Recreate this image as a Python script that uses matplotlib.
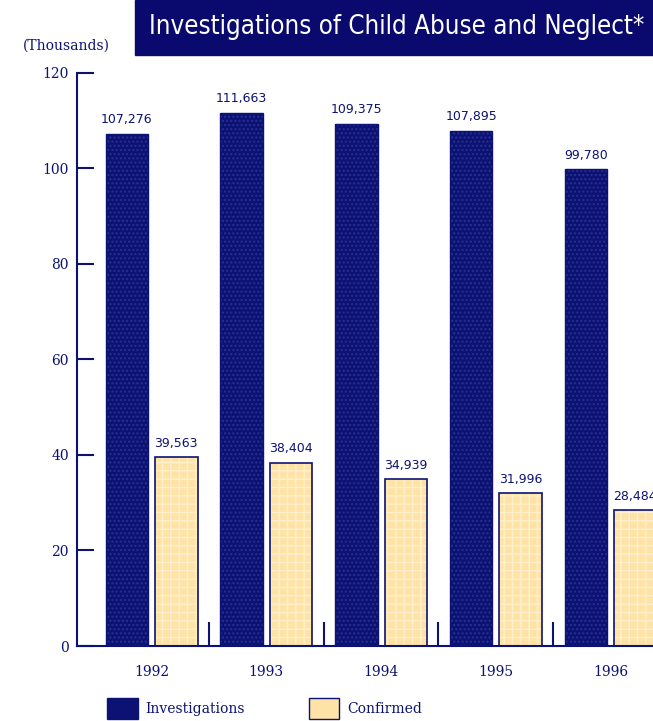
import matplotlib
matplotlib.use('Agg')
import matplotlib.pyplot as plt
from matplotlib.patches import Patch
import numpy as np

years = ['1992', '1993', '1994', '1995', '1996']
investigations = [107.276, 111.663, 109.375, 107.895, 99.780]
confirmed = [39.563, 38.404, 34.939, 31.996, 28.484]
yticks = [0, 20, 40, 60, 80, 100, 120]

navy = '#0c1273'
dot = '#27318f'
cream = '#ffe2a6'
cream_dot = '#fff0cc'

fig = plt.figure(figsize=(6.53, 7.21), dpi=100)
ax = fig.add_axes([0.118, 0.104, 0.882, 0.795])

x = np.arange(len(years))
w = 0.37
off = 0.215

# investigations: dark navy with a lighter dot texture
ax.bar(x - off, investigations, w, color=navy, edgecolor=dot, hatch='....', linewidth=0)
ax.bar(x - off, investigations, w, color='none', edgecolor=navy, linewidth=1)
# confirmed: pale yellow with a faint cross texture and navy outline
ax.bar(x + off, confirmed, w, color=cream, edgecolor=cream_dot, hatch='++', linewidth=0)
ax.bar(x + off, confirmed, w, color='none', edgecolor=navy, linewidth=1.2)

for i in range(len(years)):
    ax.text(x[i] - off, investigations[i] + 1.5, f'{investigations[i]*1000:,.0f}',
            ha='center', va='bottom', fontsize=9, color=navy)
    ax.text(x[i] + off, confirmed[i] + 1.5, f'{confirmed[i]*1000:,.0f}',
            ha='center', va='bottom', fontsize=9, color=navy, clip_on=False)

ax.set_xlim(-0.65, 4.37)
ax.set_ylim(0, 120)
ax.set_yticks(yticks)
ax.set_yticklabels([str(v) for v in yticks], fontsize=10, color=navy, family='DejaVu Serif')
ax.tick_params(axis='y', direction='in', length=12, width=1.5, color=navy, pad=6)

# short tick marks between the year groups
ax.set_xticks(x[:-1] + 0.5, minor=True)
ax.set_xticks(x)
ax.set_xticklabels(years, fontsize=10, color=navy, family='DejaVu Serif')
ax.tick_params(axis='x', which='major', length=0, pad=14)
ax.tick_params(axis='x', which='minor', direction='in', length=17, width=1.5, color=navy)

for s in ['top', 'right']:
    ax.spines[s].set_visible(False)
for s in ['left', 'bottom']:
    ax.spines[s].set_color(navy)
    ax.spines[s].set_linewidth(1.5)

# title banner
fig.patches.append(plt.Rectangle((0.207, 0.924), 0.793, 0.076, transform=fig.transFigure,
                                 color='#0a0a6e', zorder=0))
fig.text(0.607, 0.962, 'Investigations of Child Abuse and Neglect*', ha='center', va='center',
         fontsize=18.5, color='white', family='DejaVu Sans', fontstretch='condensed')
fig.text(0.035, 0.937, '(Thousands)', ha='left', va='center', fontsize=10,
         color=navy, family='DejaVu Serif')

handles = [Patch(facecolor=navy, edgecolor=navy, hatch='....'),
           Patch(facecolor=cream, edgecolor=navy)]
leg = fig.legend(handles, ['Investigations', 'Confirmed'], ncol=2, loc='center left',
                 bbox_to_anchor=(0.145, 0.017), frameon=False, fontsize=10,
                 handlelength=2.2, handleheight=1.9, columnspacing=4.6, handletextpad=0.55)
for t in leg.get_texts():
    t.set_color(navy)
    t.set_family('DejaVu Serif')

fig.savefig('out.png', dpi=100)
